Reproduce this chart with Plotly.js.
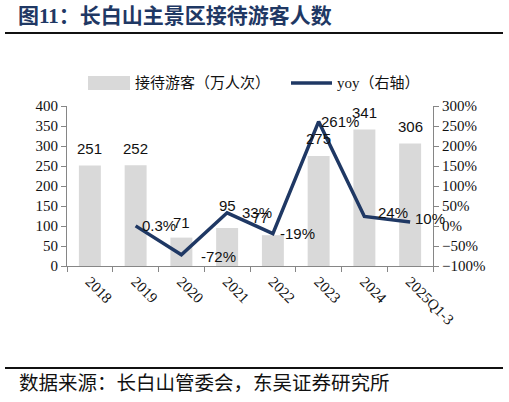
<!DOCTYPE html>
<html><head><meta charset="utf-8">
<script src="https://cdn.plot.ly/plotly-3.0.1.min.js"></script>
<style>html,body{margin:0;padding:0;background:#fff;}#chart{width:509px;height:402px;}</style>
</head><body><div id="chart"></div>
<script>
const categories = ['2018','2019','2020','2021','2022','2023','2024','2025Q1-3'];
const visitors = [251, 252, 71, 95, 77, 275, 341, 306];
const yoyCats = ['2019','2020','2021','2022','2023','2024','2025Q1-3'];
const yoy = [0.3, -72, 33, -19, 261, 24, 10];
const yoyLabels = ['0.3%','-72%','33%','-19%','261%','24%','10%'];
const barName = '接待游客（万人次）';
const lineName = 'yoy（右轴）';
const titleText = '图11：长白山主景区接待游客人数';
const sourceText = '数据来源：长白山管委会，东吴证券研究所';

// label placement tweaks (pixels), styling only
const yoyLabelDx = [4, 18, 13, 5, 0, 12, 3];
const yoyLabelDy = [0, -2, 0, 0, 0, 4, 4];
const barLabelDy = [17, 17, 15, 23, 18, 18, 17, 17];
const barLabelDx = [0, 0, 0, 0, -12, 0, 0, 0];

const serif = 'Liberation Serif, Noto Sans CJK SC, serif';
const sans = 'Liberation Sans, Arial, sans-serif';
const cjk = 'Liberation Serif, Noto Sans CJK SC, sans-serif';
const navy = '#1F3864';
const axisGray = '#868686';

const barTrace = {
  type: 'bar', x: categories, y: visitors, name: barName,
  marker: {color: '#D9D9D9'}, width: 0.48, showlegend: false,
  hoverinfo: 'skip'
};
const lineTrace = {
  type: 'scatter', mode: 'lines', x: yoyCats, y: yoy, yaxis: 'y2',
  name: lineName, line: {color: navy, width: 3.5},
  cliponaxis: false, showlegend: false
};

const labelFont = {family: sans, size: 15, color: '#111'};
const barLabels = categories.map((c, i) => ({
  x: i, y: visitors[i], xref: 'x', yref: 'y', text: String(visitors[i]),
  showarrow: false, yshift: barLabelDy[i], xshift: barLabelDx[i], font: labelFont
}));
const lineLabels = yoyCats.map((c, i) => ({
  x: categories.indexOf(c), y: yoy[i], xref: 'x', yref: 'y2', text: yoyLabels[i],
  showarrow: false, xanchor: 'left', yanchor: 'middle',
  xshift: yoyLabelDx[i], yshift: yoyLabelDy[i], font: labelFont
}));

const layout = {
  width: 509, height: 402,
  margin: {l: 67, r: 76, t: 106, b: 136},
  paper_bgcolor: '#fff', plot_bgcolor: '#fff',
  title: {text: titleText, font: {family: cjk, size: 21, color: navy, weight: 'bold'},
          x: 18/509, xref: 'container', xanchor: 'left', y: 1 - 16/402, yref: 'container', yanchor: 'middle'},
  xaxis: {
    type: 'category', categoryarray: categories, range: [-0.5, categories.length - 0.5],
    showline: true, linecolor: axisGray, linewidth: 1,
    ticks: 'outside', tickson: 'boundaries', ticklen: 5, tickcolor: axisGray,
    tickangle: 45, tickfont: {family: serif, size: 15, color: '#111'},
    showgrid: false, zeroline: false
  },
  yaxis: {
    range: [0, 400], dtick: 50, showline: true, linecolor: axisGray, linewidth: 1,
    ticks: 'outside', ticklen: 5, tickcolor: axisGray,
    tickfont: {family: serif, size: 15, color: '#111'}, showgrid: false, zeroline: false
  },
  yaxis2: {
    overlaying: 'y', side: 'right', range: [-100, 300], dtick: 50, ticksuffix: '%',
    showline: true, linecolor: axisGray, linewidth: 1,
    ticks: 'outside', ticklen: 5, tickcolor: axisGray,
    tickfont: {family: serif, size: 15, color: '#111'}, showgrid: false, zeroline: false
  },
  shapes: [
    {type: 'line', xref: 'paper', yref: 'paper', x0: -62/366, x1: 436/366, y0: 1 + 73/160, y1: 1 + 73/160,
     line: {color: '#111', width: 2}},
    {type: 'line', xref: 'paper', yref: 'paper', x0: -62/366, x1: 436/366, y0: -102/160, y1: -102/160,
     line: {color: '#111', width: 2}},
    {type: 'rect', xref: 'paper', yref: 'paper', x0: 21/366, x1: 63/366, y0: 1 + 16/160, y1: 1 + 30/160,
     fillcolor: '#D9D9D9', line: {width: 0}},
    {type: 'line', xref: 'paper', yref: 'paper', x0: 224/366, x1: 265/366, y0: 1 + 23/160, y1: 1 + 23/160,
     line: {color: navy, width: 3.5}}
  ],
  annotations: barLabels.concat(lineLabels, [
    {xref: 'paper', yref: 'paper', x: 66/366, y: 1 + 23/160, xanchor: 'left', yanchor: 'middle',
     text: barName, showarrow: false, font: {family: cjk, size: 15, color: '#111'}},
    {xref: 'paper', yref: 'paper', x: 268/366, y: 1 + 23/160, xanchor: 'left', yanchor: 'middle',
     text: lineName, showarrow: false, font: {family: cjk, size: 15, color: '#111'}},
    {xref: 'paper', yref: 'paper', x: -50/366, y: -117/160, xanchor: 'left', yanchor: 'middle',
     text: sourceText, showarrow: false, font: {family: cjk, size: 19.5, color: '#111'}}
  ])
};

Plotly.newPlot('chart', [barTrace, lineTrace], layout, {displayModeBar: false, staticPlot: true});
</script></body></html>
